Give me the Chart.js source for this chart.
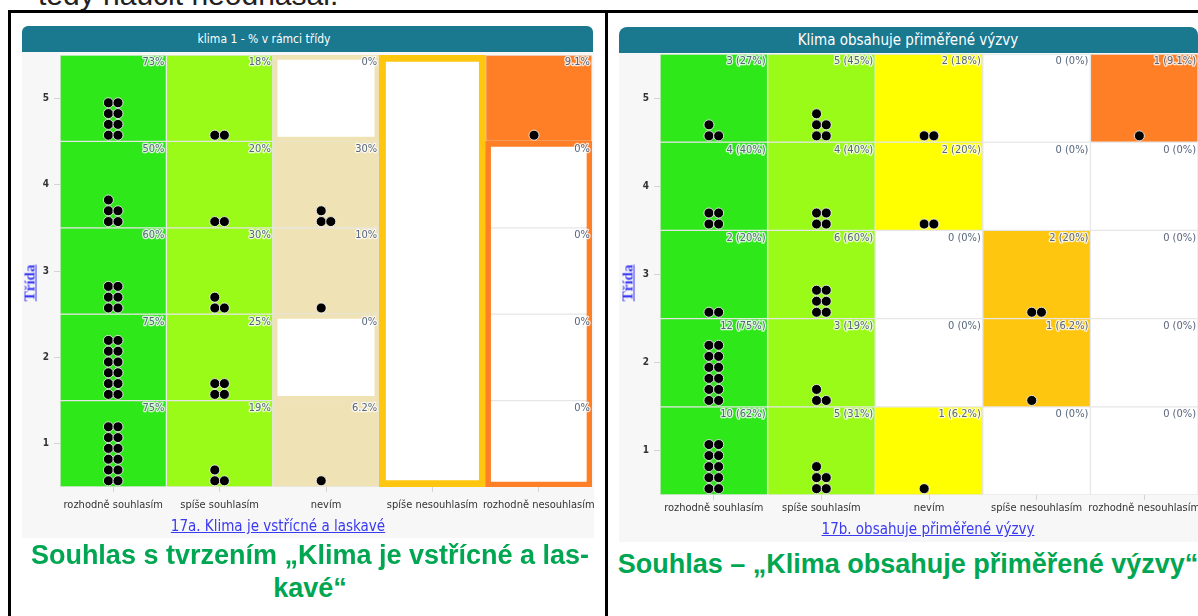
<!DOCTYPE html>
<html><head><meta charset="utf-8">
<script src="https://cdn.jsdelivr.net/npm/chart.js@4.4.1/dist/chart.umd.min.js"></script>
<style>
body{margin:0;width:1198px;height:616px;overflow:hidden;background:#fff;position:relative;font-family:'Liberation Sans',Arial,sans-serif;}
.abs{position:absolute;}
.line{position:absolute;background:#000;}
.panel{position:absolute;background:#f7f7f7;}
.hdr{position:absolute;background:#1a788f;color:#fff;font-family:'Liberation Sans Narrow','DejaVu Sans Condensed',sans-serif;white-space:nowrap;}
.hdr span{position:absolute;transform:translateX(-50%);}
.sub{position:absolute;color:#3a3af0;text-decoration:underline;font-family:'Liberation Sans Narrow','DejaVu Sans Condensed',sans-serif;font-size:15px;white-space:nowrap;transform:translateX(-50%);}
.ytitle{position:absolute;color:#3838f5;text-decoration:underline;font-family:'Liberation Serif',serif;font-weight:bold;font-size:15px;transform:translate(-50%,-50%) rotate(-90deg);white-space:nowrap;}
.cap{position:absolute;color:#00a651;font-weight:bold;font-size:27px;white-space:nowrap;transform:translateX(-50%);line-height:1;}
canvas{position:absolute;}
</style></head><body>
<div class="abs" style="left:38px;top:-20px;font-size:30px;line-height:1;color:#222;white-space:nowrap;">tedy naučit neodnášal.</div>
<div class="line" style="left:8px;top:10px;width:1190px;height:3px;"></div>
<div class="line" style="left:8px;top:10px;width:3px;height:606px;"></div>
<div class="line" style="left:605px;top:10px;width:3px;height:606px;"></div>

<div class="panel" style="left:22px;top:52px;width:572px;height:486px;"></div>
<div class="hdr" style="left:22px;top:26px;width:571px;height:26px;border-radius:6px 6px 0 0;font-size:12px;"><span style="left:242px;top:6px;">klima 1 - % v rámci třídy</span></div>
<div class="panel" style="left:619px;top:52px;width:579px;height:490px;"></div>
<div class="hdr" style="left:619px;top:27px;width:579px;height:26px;border-radius:8px 8px 0 0;font-size:15px;"><span style="left:289px;top:4px;">Klima obsahuje přiměřené výzvy</span></div>

<canvas id="chartA" width="572" height="488" style="left:22px;top:52px;"></canvas>
<canvas id="chartB" width="579" height="490" style="left:619px;top:52px;"></canvas>

<div class="ytitle" style="left:30px;top:283px;">Třída</div>
<div class="ytitle" style="left:628px;top:283px;">Třída</div>
<div class="sub" style="left:278px;top:517px;">17a. Klima je vstřícné a laskavé</div>
<div class="sub" style="left:928px;top:520px;">17b. obsahuje přiměřené výzvy</div>
<div class="cap" style="left:310px;top:542px;">Souhlas s tvrzením „Klima je vstřícné a las-</div>
<div class="cap" style="left:310px;top:575px;">kavé“</div>
<div class="cap" style="left:908px;top:551px;">Souhlas – „Klima obsahuje přiměřené výzvy“</div>

<script>
// ---- shared categories / ticks ----
const categories = ['rozhodně souhlasím', 'spíše souhlasím', 'nevím', 'spíše nesouhlasím', 'rozhodně nesouhlasím'];
const classLabels = ['1', '2', '3', '4', '5'];   // třída 1..5

// ---- 17a. Klima je vstřícné a laskavé (counts per třída 1..5) ----
const aRozhodneSouhlasim   = [12, 12, 6, 5, 8];
const aSpiseSouhlasim      = [3, 4, 3, 2, 2];
const aNevim               = [1, 0, 1, 3, 0];
const aSpiseNesouhlasim    = [null, null, null, null, null];
const aRozhodneNesouhlasim = [0, 0, 0, 0, 1];
const aPctRozhodneSouhlasim   = ['75%', '75%', '60%', '50%', '73%'];
const aPctSpiseSouhlasim      = ['19%', '25%', '30%', '20%', '18%'];
const aPctNevim               = ['6.2%', '0%', '10%', '30%', '0%'];
const aPctSpiseNesouhlasim    = [null, null, null, null, null];
const aPctRozhodneNesouhlasim = ['0%', '0%', '0%', '0%', '9.1%'];

// ---- 17b. obsahuje přiměřené výzvy (counts per třída 1..5) ----
const bRozhodneSouhlasim   = [10, 12, 2, 4, 3];
const bSpiseSouhlasim      = [5, 3, 6, 4, 5];
const bNevim               = [1, 0, 0, 2, 2];
const bSpiseNesouhlasim    = [0, 1, 2, 0, 0];
const bRozhodneNesouhlasim = [0, 0, 0, 0, 1];
const bPctRozhodneSouhlasim   = ['62%', '75%', '20%', '40%', '27%'];
const bPctSpiseSouhlasim      = ['31%', '19%', '60%', '40%', '45%'];
const bPctNevim               = ['6.2%', '0%', '0%', '20%', '18%'];
const bPctSpiseNesouhlasim    = ['0%', '6.2%', '20%', '0%', '0%'];
const bPctRozhodneNesouhlasim = ['0%', '0%', '0%', '0%', '9.1%'];

const NARROW = "'Liberation Sans Narrow','DejaVu Sans Condensed',sans-serif";
const COLS_B = ['#2ee81a', '#9bfb18', '#ffff00', '#ffc60f', '#ff7f27'];
const COLS_A = ['#2ee81a', '#9bfb18', '#efe2b4', '#ffc60f', '#ff7f27'];
const GAP = '#e6e6e6';

const DOT_DX = 0.045, DOT_DY = 0.125, DOT_Y0 = 0.072;
function dotData(counts) {
  const pts = [];
  counts.forEach((arr, c) => arr.forEach((n, i) => {
    if (!n) return;
    for (let k = 0; k < n; k++) {
      const row = Math.floor(k / 2), side = k % 2;
      pts.push({ x: c + (side ? DOT_DX : -DOT_DX), y: i + 0.5 + DOT_Y0 + row * DOT_DY });
    }
  }));
  return pts;
}

function makeChart(id, spec) {
  const cells = [], bg = [], bc = [], bw = [];
  spec.counts.forEach((arr, c) => arr.forEach((n, i) => {
    const st = spec.cellStyle(c, n);
    if (!st) return;
    cells.push({ x: c, y: [i + 0.5, i + 1.5] });
    bg.push(st.bg); bc.push(st.border); bw.push(st.width);
  }));
  const datasets = [
    { type: 'scatter', data: dotData(spec.counts), pointRadius: 5, pointBackgroundColor: '#000',
      pointBorderColor: '#fff', pointBorderWidth: 0.8, order: 0 },
  ];
  if (spec.frames) datasets.push(Object.assign({ type: 'bar', order: 1, borderSkipped: false,
      grouped: false, barPercentage: 1, categoryPercentage: 1 }, spec.frames));
  datasets.push({ type: 'bar', data: cells, backgroundColor: bg, borderColor: bc, borderWidth: bw,
      borderSkipped: false, order: 2, grouped: false, barPercentage: 1, categoryPercentage: 1 });

  const labelPlugin = {
    id: 'cellLabels' + id,
    afterDatasetsDraw(chart) {
      const { ctx, chartArea, scales: { x, y } } = chart;
      ctx.save();
      ctx.font = '11px ' + NARROW;
      ctx.textAlign = 'right'; ctx.textBaseline = 'top';
      spec.labels.forEach((arr, c) => arr.forEach((t, i) => {
        if (t == null) return;
        const txt = spec.format(spec.counts[c][i], t);
        const px = x.getPixelForValue(c + 0.5) - 2, py = y.getPixelForValue(i + 1.5) + 2;
        ctx.lineWidth = 2.5; ctx.strokeStyle = 'rgba(255,255,255,0.8)'; ctx.lineJoin = 'round';
        ctx.strokeText(txt, px, py);
        ctx.fillStyle = '#56657c';
        ctx.fillText(txt, px, py);
      }));
      // category labels under the plot
      ctx.textAlign = 'center'; ctx.textBaseline = 'middle';
      ctx.fillStyle = '#333';
      categories.forEach((cat, i) => {
        ctx.fillText(cat, x.getPixelForValue(i), chartArea.bottom + spec.xLabelOffset);
      });
      ctx.restore();
    }
  };

  return new Chart(document.getElementById(id), {
    type: 'bar',
    data: { datasets },
    plugins: [labelPlugin],
    options: {
      responsive: false, animation: false, events: [],
      layout: { padding: spec.padding, autoPadding: false },
      plugins: { legend: { display: false }, tooltip: { enabled: false } },
      scales: {
        x: {
          type: 'linear', min: -0.5, max: 4.5, offset: false,
          afterBuildTicks: s => { s.ticks = categories.map((_, i) => ({ value: i })); },
          afterFit: s => { s.height = spec.xAxisH; },
          ticks: { display: false },
          grid: { drawOnChartArea: false, drawTicks: true, tickLength: 5, color: '#d4d4d4', offset: false },
          border: { display: false }
        },
        y: {
          type: 'linear', min: 0.5, max: 5.5,
          afterBuildTicks: s => { s.ticks = classLabels.map((_, i) => ({ value: i + 1 })); },
          afterFit: s => { s.width = spec.yAxisW; s.paddingTop = 0; s.paddingBottom = 0; },
          ticks: { callback: v => classLabels[v - 1], font: { family: NARROW, size: 10, weight: 'bold' },
                   color: '#333', padding: 5 },
          grid: { drawOnChartArea: false, drawTicks: true, tickLength: 6, color: '#d4d4d4' },
          border: { display: false }
        }
      }
    }
  });
}

// ---- chart 17a ----
const countsA = [aRozhodneSouhlasim, aSpiseSouhlasim, aNevim, aSpiseNesouhlasim, aRozhodneNesouhlasim];
const zeroRowsA = aRozhodneNesouhlasim.map((n, i) => n === 0 ? i + 1 : null).filter(v => v !== null);
makeChart('chartA', {
  counts: countsA,
  labels: [aPctRozhodneSouhlasim, aPctSpiseSouhlasim, aPctNevim, aPctSpiseNesouhlasim, aPctRozhodneNesouhlasim],
  format: (n, t) => t,
  padding: { top: 3, right: 2, left: 0, bottom: 0 },
  xAxisH: 53, yAxisW: 38, xLabelOffset: 18,
  cellStyle: (c, n) => {
    if (n === null) return null;
    if (n > 0) return { bg: COLS_A[c], border: GAP, width: 1 };
    if (c === 2) return { bg: '#ffffff', border: COLS_A[2], width: 5 };
    return { bg: '#ffffff', border: GAP, width: 1 };
  },
  frames: {
    data: [
      { x: 3, y: [0.5, 5.5] },
      { x: 4, y: [Math.min(...zeroRowsA) - 0.5, Math.max(...zeroRowsA) + 0.5] }
    ],
    backgroundColor: ['#ffffff', 'rgba(0,0,0,0)'],
    borderColor: [COLS_A[3], COLS_A[4]],
    borderWidth: [7, 5]
  }
});

// ---- chart 17b ----
const countsB = [bRozhodneSouhlasim, bSpiseSouhlasim, bNevim, bSpiseNesouhlasim, bRozhodneNesouhlasim];
makeChart('chartB', {
  counts: countsB,
  labels: [bPctRozhodneSouhlasim, bPctSpiseSouhlasim, bPctNevim, bPctSpiseNesouhlasim, bPctRozhodneNesouhlasim],
  format: (n, t) => n + ' (' + t + ')',
  padding: { top: 2, right: 0, left: 0, bottom: 0 },
  xAxisH: 47, yAxisW: 41, xLabelOffset: 13,
  cellStyle: (c, n) => n > 0 ? { bg: COLS_B[c], border: GAP, width: 1 } : { bg: '#ffffff', border: GAP, width: 1 }
});
</script>
</body></html>
